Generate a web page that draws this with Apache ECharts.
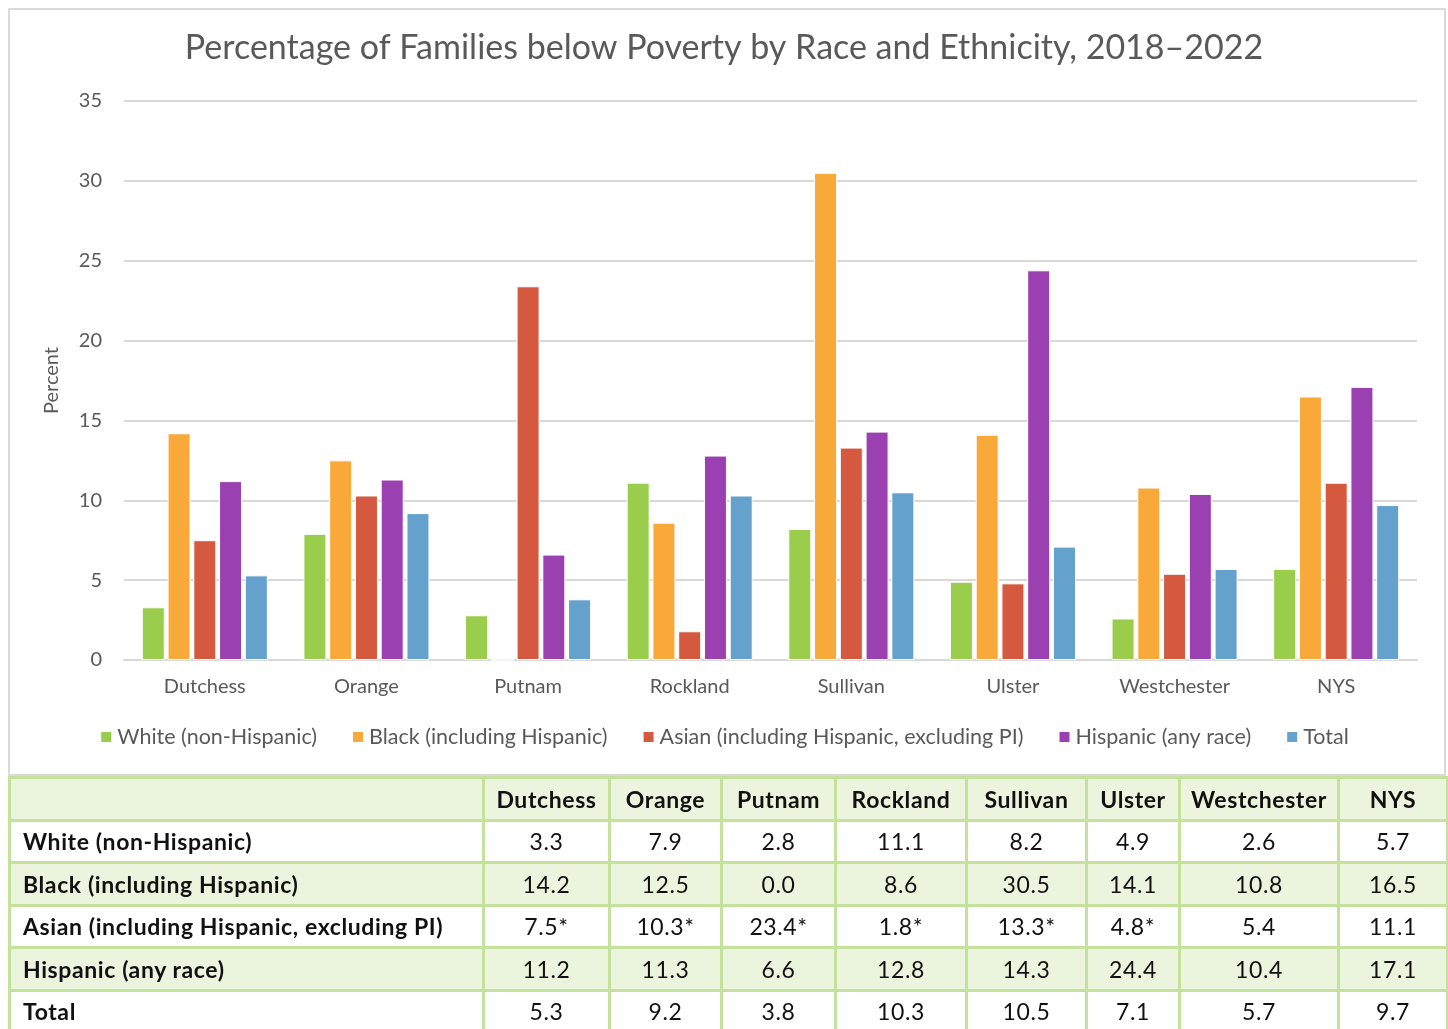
<!DOCTYPE html>
<html>
<head>
<meta charset="utf-8">
<script src="https://cdn.jsdelivr.net/npm/echarts@6/dist/echarts.min.js"></script>
<style>
  html, body { margin: 0; padding: 0; background: #fff; }
  body { width: 1448px; height: 1029px; position: relative; overflow: hidden; font-family: Lato, "Open Sans", sans-serif; }
  #frame { position: absolute; left: 8px; top: 8px; width: 1438px; height: 768px; box-sizing: border-box; border: 2px solid #d9d9d9; }
  #main { position: absolute; left: 0; top: 0; width: 1448px; height: 776px; }
  #tbl { position: absolute; left: 8px; top: 776px; width: 1438px; table-layout: fixed; border-collapse: collapse; font-size: 23px; letter-spacing: 0.6px; color: #111; }
  #tbl td, #tbl th { border: 3px solid #c4e29c; height: 39.5px; padding: 0 0 0 12px; text-align: center; white-space: nowrap; }
  #tbl th { font-weight: 700; padding: 0; }
  #tbl td.lab { text-align: left; font-weight: 700; }
  #tbl td.v { padding: 0; }
  #tbl tr.g { background: #ebf4dd; }
</style>
</head>
<body>
<div id="main"></div>
<div id="frame"></div>
<table id="tbl"></table>
<script>
// 数据
const counties = ['Dutchess', 'Orange', 'Putnam', 'Rockland', 'Sullivan', 'Ulster', 'Westchester', 'NYS'];
const groups = ['White (non-Hispanic)', 'Black (including Hispanic)', 'Asian (including Hispanic, excluding PI)', 'Hispanic (any race)', 'Total'];
const white = [3.3, 7.9, 2.8, 11.1, 8.2, 4.9, 2.6, 5.7];
const black = [14.2, 12.5, 0.0, 8.6, 30.5, 14.1, 10.8, 16.5];
const asian = [7.5, 10.3, 23.4, 1.8, 13.3, 4.8, 5.4, 11.1];
const hispanic = [11.2, 11.3, 6.6, 12.8, 14.3, 24.4, 10.4, 17.1];
const total = [5.3, 9.2, 3.8, 10.3, 10.5, 7.1, 5.7, 9.7];
// 表格中带星号的亚裔数值
const asianLabels = ['7.5*', '10.3*', '23.4*', '1.8*', '13.3*', '4.8*', '5.4', '11.1'];
const colors = ['#9acd4c', '#f9a83a', '#d4593f', '#9a40b0', '#64a1cd'];
const colWidths = [474, 126, 112, 114, 131, 120, 93, 159, 109];

function initChart() {
    const chart = echarts.init(document.getElementById('main'));
    const seriesData = [white, black, asian, hispanic, total];
    chart.setOption({
        animation: false,
        color: colors,
        title: {
            text: 'Percentage of Families below Poverty by Race and Ethnicity, 2018\u20132022',
            left: 'center', top: 26,
            textStyle: { fontSize: 34, fontWeight: 'normal', color: '#595959', fontFamily: 'Lato' }
        },
        legend: {
            bottom: 23, left: 'center',
            itemWidth: 12, itemHeight: 12, itemGap: 34,
            icon: 'rect',
            textStyle: { fontSize: 21.5, color: '#595959', fontFamily: 'Lato' },
            data: groups
        },
        grid: { left: 124, right: 31, top: 101, bottom: 116 },
        xAxis: {
            type: 'category',
            data: counties,
            axisTick: { show: false },
            axisLine: { lineStyle: { color: '#d9d9d9', width: 2 } },
            axisLabel: { fontSize: 20, color: '#595959', margin: 17, fontFamily: 'Lato' }
        },
        yAxis: {
            type: 'value',
            min: 0, max: 35, interval: 5,
            name: 'Percent', nameLocation: 'middle', nameGap: 62,
            nameTextStyle: { fontSize: 20, color: '#595959', fontFamily: 'Lato' },
            axisLabel: { fontSize: 20, color: '#595959', margin: 22, fontFamily: 'Lato' },
            splitLine: { lineStyle: { color: '#d9d9d9', width: 2 } }
        },
        series: seriesData.map((d, i) => ({
            name: groups[i],
            type: 'bar',
            data: d,
            barWidth: 23,
            barGap: '12%',
            itemStyle: { borderColor: '#fff', borderWidth: 1 }
        }))
    });
}

function buildTable() {
    const tbl = document.getElementById('tbl');
    let html = '<colgroup>' + colWidths.map(w => '<col style="width:' + w + 'px">').join('') + '</colgroup>';
    html += '<tr class="g"><th></th>' + counties.map(c => '<th>' + c + '</th>').join('') + '</tr>';
    const rows = [white.map(v => v.toFixed(1)), black.map(v => v.toFixed(1)), asianLabels,
                  hispanic.map(v => v.toFixed(1)), total.map(v => v.toFixed(1))];
    rows.forEach((r, i) => {
        html += '<tr' + (i % 2 === 1 ? ' class="g"' : '') + '><td class="lab">' + groups[i] + '</td>' +
            r.map(v => '<td class="v">' + v + '</td>').join('') + '</tr>';
    });
    tbl.innerHTML = html;
}

buildTable();
initChart();
</script>
</body>
</html>
